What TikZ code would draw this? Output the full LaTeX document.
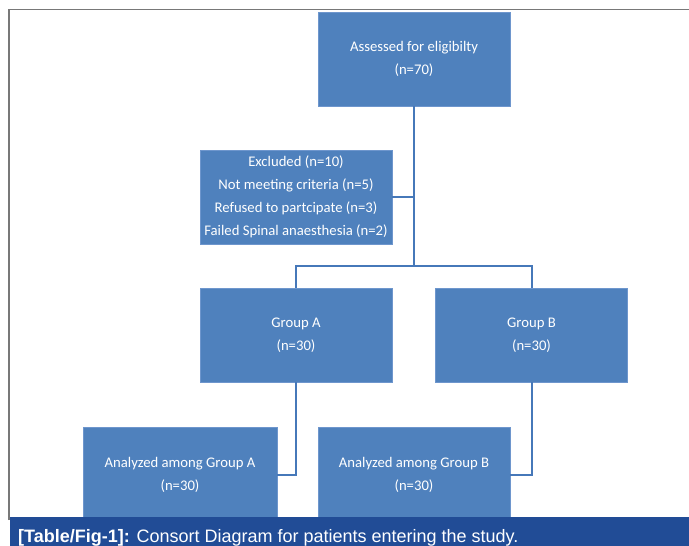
\documentclass[tikz,border=0pt]{standalone}
\usepackage{fontspec}
\setmainfont{Carlito}
\newfontfamily\capfont{Liberation Sans}
\definecolor{boxblue}{RGB}{79,129,189}
\definecolor{boxedge}{RGB}{110,150,205}
\definecolor{linkblue}{RGB}{70,120,185}
\definecolor{capblue}{RGB}{33,76,150}
\definecolor{framegray}{RGB}{120,120,120}
\tikzset{
  flowbox/.style={rectangle, fill=boxblue, draw=boxedge, line width=0.8pt,
    minimum width=192pt, minimum height=94pt, inner sep=0pt,
    text=white, align=center,
    font=\fontsize{14.7}{23}\selectfont},
  link/.style={draw=linkblue, line width=2pt},
}
\begin{document}
\begin{tikzpicture}[x=1pt,y=-1pt]
\useasboundingbox (0,0) rectangle (689,546);
\fill[white] (0,0) rectangle (689,546);
% frame
\draw[framegray, line width=1.6pt] (9,520) -- (9,9.5) -- (689,9.5);
% boxes
\node[flowbox] (top) at (414,59) {Assessed for eligibilty\\(n=70)};
\node[flowbox] (excl) at (296,197) {Excluded (n=10)\\Not meeting criteria (n=5)\\Refused to partcipate (n=3)\\Failed Spinal anaesthesia (n=2)};
\node[flowbox] (ga) at (296,335) {Group A\\(n=30)};
\node[flowbox] (gb) at (531.5,335) {Group B\\(n=30)};
\node[flowbox, minimum width=194pt] (ana) at (180,474.5) {Analyzed among Group A\\(n=30)};
\node[flowbox] (anb) at (414,474.5) {Analyzed among Group B\\(n=30)};
% connectors
\coordinate (jn) at (414,266);
\draw[link] (top.south) -- (jn);
\draw[link] (excl.east) -- (excl.east -| top.south);
\draw[link] (ga.north) |- (jn) -| (gb.north);
\draw[link] (ga.south) |- (ana.east);
\draw[link] (gb.south) |- (anb.east);
% caption bar
\fill[capblue] (9.7,517) rectangle (689,546);
\node[anchor=base west, text=white, inner sep=0pt, font=\capfont\fontsize{18}{20}\selectfont] (cap) at (18,542) {\textbf{[Table/Fig-1]:} Consort Diagram for patients entering the study.};
\end{tikzpicture}
\end{document}
